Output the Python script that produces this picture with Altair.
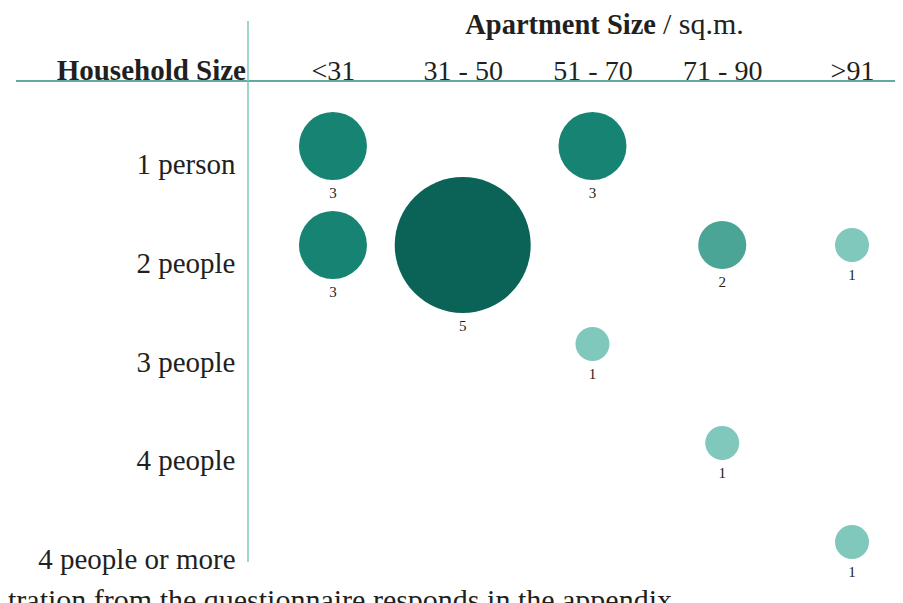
import altair as alt
import pandas as pd

# ---- data ----
rows = ["1 person", "2 people", "3 people", "4 people", "4 people or more"]
cols = ["<31", "31 - 50", "51 - 70", "71 - 90", ">91"]

household = ["1 person", "1 person", "2 people", "2 people", "2 people", "2 people",
             "3 people", "4 people", "4 people or more"]
apartment = ["<31", "51 - 70", "<31", "31 - 50", "71 - 90", ">91",
             "51 - 70", "71 - 90", ">91"]
counts = [3, 3, 3, 5, 2, 1, 1, 1, 1]

count_levels = [1, 2, 3, 5]
count_colors = ["#7fc8bb", "#4aa596", "#178373", "#0b6358"]

x_title_bold = "Apartment Size"
x_title_rest = "/ sq.m."
y_title = "Household Size"
footer = "tration from the questionnaire responds in the appendix"

FONT = "Liberation Serif"
TXT = "#231f20"

df = pd.DataFrame({"household": household, "apartment": apartment, "count": counts})

base = alt.Chart(df).transform_calculate(
    area="pow(2, datum.count - 1)",
    off="17 * pow(sqrt(2), datum.count - 1) + 13",
)

x_enc = alt.X(
    "apartment:N",
    sort=cols,
    scale=alt.Scale(type="point", domain=cols, padding=0.493, align=0.664),
    axis=alt.Axis(
        orient="top", title=None, domain=False, ticks=False, grid=False,
        labelAngle=0, labelFont=FONT, labelFontSize=28, labelColor=TXT,
        labelBaseline="alphabetic", labelPadding=2,
    ),
)
y_enc = alt.Y(
    "household:N",
    sort=rows,
    scale=alt.Scale(type="point", domain=rows, padding=0.657),
    axis=alt.Axis(
        title=None, domain=False, ticks=False, grid=False,
        labelFont=FONT, labelFontSize=29, labelColor=TXT, labelLimit=400,
        labelPadding=13, labelOffset=18,
    ),
)

circles = base.mark_circle(opacity=1).encode(
    x=x_enc,
    y=y_enc,
    size=alt.Size("area:Q", scale=alt.Scale(type="linear", domain=[0, 16], range=[0, 18496]), legend=None),
    color=alt.Color("count:O", scale=alt.Scale(domain=count_levels, range=count_colors), legend=None),
)

labels = base.mark_text(
    font=FONT, fontSize=15, color=TXT, baseline="middle", dy=alt.expr("datum.off")
).encode(
    x=alt.X("apartment:N", sort=cols),
    y=alt.Y("household:N", sort=rows),
    text="count:Q",
)

hline = alt.Chart(pd.DataFrame({"a": [0]})).mark_rule(color="#2f8d7d", strokeWidth=1.5).encode(
    x=alt.value(-232), x2=alt.value(647), y=alt.value(0)
)
vline = alt.Chart(pd.DataFrame({"a": [0]})).mark_rule(color="#7fc8bb", strokeWidth=1.5).encode(
    x=alt.value(0), y=alt.value(-60), y2=alt.value(481)
)

t_bold = alt.Chart(pd.DataFrame({"t": [x_title_bold]})).mark_text(
    font=FONT, fontSize=28.5, fontWeight="bold", color=TXT, align="right", baseline="alphabetic"
).encode(x=alt.value(408), y=alt.value(-47), text="t:N")
t_rest = alt.Chart(pd.DataFrame({"t": [x_title_rest]})).mark_text(
    font=FONT, fontSize=30, color=TXT, align="left", baseline="alphabetic"
).encode(x=alt.value(415), y=alt.value(-47), text="t:N")
t_y = alt.Chart(pd.DataFrame({"t": [y_title]})).mark_text(
    font=FONT, fontSize=29, fontWeight="bold", color=TXT, align="right", baseline="alphabetic"
).encode(x=alt.value(-2), y=alt.value(-1), text="t:N")
t_foot = alt.Chart(pd.DataFrame({"t": [footer]})).mark_text(
    font=FONT, fontSize=30, color=TXT, align="left", baseline="alphabetic"
).encode(x=alt.value(-240), y=alt.value(529), text="t:N")

chart = alt.layer(circles, labels, hline, vline, t_bold, t_rest, t_y, t_foot).properties(
    width=647,
    height=526,
    autosize=alt.AutoSizeParams(type="none"),
    padding={"left": 240, "top": 73, "right": 0, "bottom": 10},
    background="white",
).configure_view(stroke=None)

chart.save("out.html", embed_options={"renderer": "svg", "actions": False})
